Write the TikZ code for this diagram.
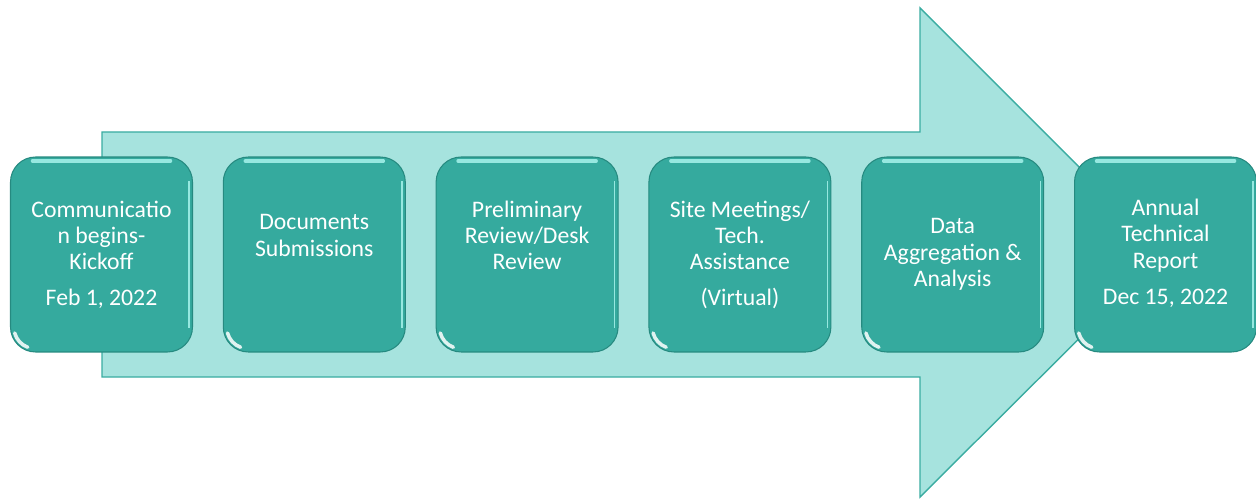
\documentclass[tikz,border=0pt]{standalone}
\usepackage{fontspec}
\setmainfont{Carlito}
\usetikzlibrary{positioning}

\definecolor{arrowfill}{RGB}{166,227,222}
\definecolor{arrowline}{RGB}{58,172,161}
\definecolor{boxfill}{RGB}{53,170,158}
\definecolor{boxline}{RGB}{38,138,128}
\definecolor{boxshine}{RGB}{150,232,224}

\begin{document}
\begin{tikzpicture}[x=0.02cm, y=-0.02cm,
        stage/.style = {rectangle, rounded corners=0.5cm,
            minimum width=3.64cm, minimum height=3.9cm,
            fill=boxfill, draw=boxline, line width=0.6pt},
        txt/.style = {text=white, align=center, inner sep=0pt,
            font=\fontsize{13.5}{15}\selectfont}]

        \useasboundingbox (0,0) rectangle (1256,499);

        % Big arrow behind the stages
        \draw[fill=arrowfill, draw=arrowline, line width=0.8pt]
            (102,132) -- (920,132) -- (920,8) -- (1165,253)
            -- (920,497) -- (920,377) -- (102,377) -- cycle;

        % Stage boxes with a bit of shine
        \foreach \i/\x in {1/101.5, 2/314.3, 3/527.1, 4/739.9, 5/952.7, 6/1165.5} {
            \node[stage] (s\i) at (\x,254.5) {};
            \draw[boxshine, line width=2pt, line cap=round]
                ([xshift=0.45cm, yshift=-0.09cm]s\i.north west)
                -- ([xshift=-0.45cm, yshift=-0.09cm]s\i.north east);
            \draw[boxshine, line width=0.8pt]
                ([xshift=-0.08cm, yshift=-0.5cm]s\i.north east)
                -- ([xshift=-0.08cm, yshift=0.5cm]s\i.south east);
            \draw[white, line width=2pt, line cap=round, opacity=0.85]
                ([shift={(0.094cm,0.391cm)}]s\i.south west)
                arc[start angle=195, end angle=250, radius=0.42cm];
        }

        % Stage texts
        \node[txt] (t1) at ([yshift=-1.58cm]s1.north) {Communicatio\\n begins-\\Kickoff};
        \node[txt] (d1) at ([yshift=1.08cm]s1.south) {Feb 1, 2022};
        \node[txt] (t2) at ([yshift=-1.58cm]s2.north) {Documents\\Submissions};
        \node[txt] (t3) at ([yshift=-1.58cm]s3.north) {Preliminary\\Review/Desk\\Review};
        \node[txt] (t4) at ([yshift=-1.58cm]s4.north) {Site Meetings/\\Tech.\\Assistance};
        \node[txt] (d4) at ([yshift=1.08cm]s4.south) {(Virtual)};
        \node[txt] (t5) at (s5) {Data\\Aggregation \&\\Analysis};
        \node[txt] (t6) at ([yshift=-1.58cm]s6.north) {Annual\\Technical\\Report};
        \node[txt] (d6) at ([yshift=1.08cm]s6.south) {Dec 15, 2022};

\end{tikzpicture}
\end{document}
